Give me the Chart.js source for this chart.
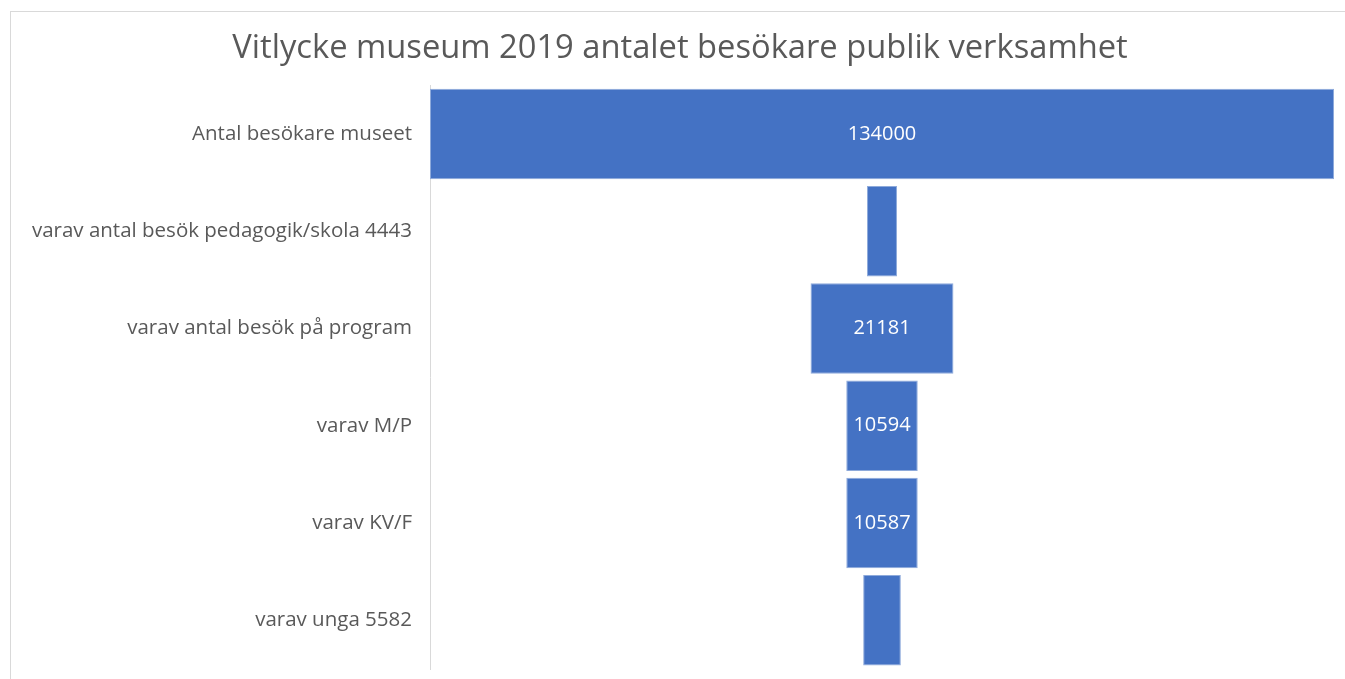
<!DOCTYPE html>
<html>
<head>
<meta charset="utf-8">
<script src="https://cdn.jsdelivr.net/npm/chart.js@4"></script>
<style>
  html, body { margin: 0; padding: 0; background: #fff; overflow: hidden; }
  #wrap { position: absolute; left: 0; top: 0; width: 1360px; height: 679px; }
  #frame { position: absolute; left: 10px; top: 11px; width: 1400px; height: 700px;
           border: 1px solid #d9d9d9; pointer-events: none; }
</style>
</head>
<body>
<div id="wrap"><canvas id="chart" width="1360" height="679"></canvas></div>
<div id="frame"></div>
<script>
// ===== Data =====
const categories = [
  'Antal besökare museet',
  'varav antal besök pedagogik/skola 4443',
  'varav antal besök på program',
  'varav M/P',
  'varav KV/F',
  'varav unga 5582'
];
const visitors = [134000, 4443, 21181, 10594, 10587, 5582];

const BAR_COLOR = '#4472c4';
const TEXT_COLOR = '#595959';
const FONT = "'Open Sans', 'Noto Sans', sans-serif";

// funnel: each bar centred on zero
const maxVal = Math.max(...visitors);
const funnelData = visitors.map(v => [-v / 2, v / 2]);

// white value labels inside bars that have room for them
const valueLabels = {
  id: 'valueLabels',
  afterDatasetsDraw(chart) {
    const { ctx } = chart;
    const meta = chart.getDatasetMeta(0);
    ctx.save();
    ctx.font = `20px ${FONT}`;
    ctx.fillStyle = '#ffffff';
    ctx.textAlign = 'center';
    ctx.textBaseline = 'middle';
    meta.data.forEach((bar, i) => {
      const text = String(visitors[i]);
      const w = Math.abs(bar.x - bar.base);
      if (ctx.measureText(text).width + 4 > w) return;
      ctx.fillText(text, (bar.x + bar.base) / 2, bar.y);
    });
    ctx.restore();
  }
};

new Chart(document.getElementById('chart'), {
  type: 'bar',
  data: {
    labels: categories,
    datasets: [{
      data: funnelData,
      backgroundColor: BAR_COLOR,
      borderColor: '#8eaadb',
      borderWidth: 1,
      borderSkipped: false,
      categoryPercentage: 1,
      barPercentage: 0.93
    }]
  },
  options: {
    indexAxis: 'y',
    responsive: false,
    animation: false,
    layout: { padding: { left: 0, right: 0, top: 0, bottom: 10 } },
    plugins: {
      legend: { display: false },
      tooltip: { enabled: false },
      title: {
        display: true,
        text: 'Vitlycke museum 2019 antalet besökare publik verksamhet',
        color: TEXT_COLOR,
        font: { family: FONT, size: 32.7, weight: 'normal' },
        padding: { top: 29, bottom: 17 }
      }
    },
    scales: {
      x: {
        display: false,
        min: -maxVal / 2,
        max: maxVal / 2
      },
      y: {
        grid: { display: true, drawOnChartArea: false, drawTicks: false },
        border: { display: true, color: '#d9d9d9', width: 1 },
        ticks: {
          color: TEXT_COLOR,
          font: { family: FONT, size: 20.5 },
          padding: 18
        },
        afterFit: (scale) => {
          scale.width = 430;
          scale.paddingTop = 0;
          scale.paddingBottom = 0;
        }
      },
      // empty right-hand spacer so the title stays centred on the frame
      yRight: {
        position: 'right',
        grid: { display: false },
        border: { display: false },
        ticks: { display: false },
        afterFit: (scale) => {
          scale.width = 26;
          scale.paddingTop = 0;
          scale.paddingBottom = 0;
        }
      }
    }
  },
  plugins: [valueLabels]
});
</script>
</body>
</html>
